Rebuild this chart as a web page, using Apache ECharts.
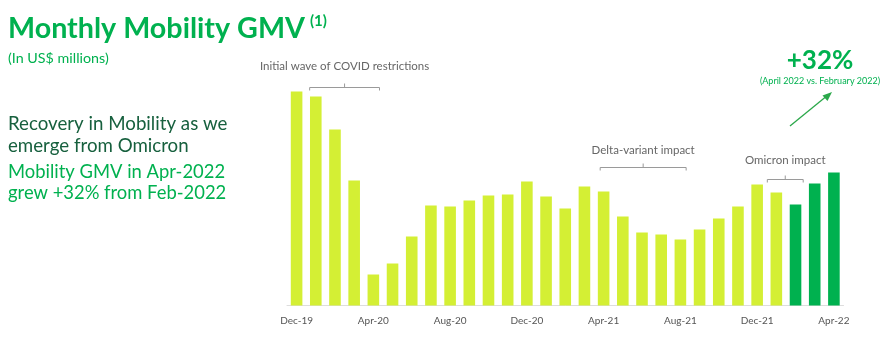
<!DOCTYPE html>
<html>
<head>
<meta charset="utf-8">
<script src="https://cdn.jsdelivr.net/npm/echarts@6/dist/echarts.min.js"></script>
<style>
  html, body { margin: 0; padding: 0; background: #ffffff; }
  #chart { width: 896px; height: 339px; }
</style>
</head>
<body>
<div id="chart"></div>
<script>
// Monthly Mobility GMV, Dec-2019 to Apr-2022 (US$ millions)
const months = [
  'Dec-19', 'Jan-20', 'Feb-20', 'Mar-20', 'Apr-20', 'May-20', 'Jun-20', 'Jul-20',
  'Aug-20', 'Sep-20', 'Oct-20', 'Nov-20', 'Dec-20', 'Jan-21', 'Feb-21', 'Mar-21',
  'Apr-21', 'May-21', 'Jun-21', 'Jul-21', 'Aug-21', 'Sep-21', 'Oct-21', 'Nov-21',
  'Dec-21', 'Jan-22', 'Feb-22', 'Mar-22', 'Apr-22'
];
const gmv = [
  214, 209, 176, 125, 31, 42, 69, 100,
  99, 105, 110, 111, 124, 109, 97, 119,
  114, 89, 73, 71, 66, 76, 87, 99,
  121, 113, 101, 122, 133
];
// Months from Feb-22 onward are highlighted
const highlightFrom = 'Feb-22';

// Annotated periods: [first month, last month, caption]
const periods = [
  ['Jan-20', 'Apr-20', 'Initial wave of COVID restrictions'],
  ['Apr-21', 'Aug-21', 'Delta-variant impact'],
  ['Jan-22', 'Feb-22', 'Omicron impact']
];

const LIME = '#D4EF34';
const GREEN = '#00B14F';
const FONT = 'Lato, "Noto Sans", sans-serif';

const chart = echarts.init(document.getElementById('chart'));
const hiIndex = months.indexOf(highlightFrom);

chart.setOption({
  backgroundColor: '#ffffff',
  animation: false,
  textStyle: { fontFamily: FONT },
  grid: { left: 287, right: 52.5, top: 85.5, bottom: 33.5 },
  xAxis: {
    type: 'category',
    data: months,
    boundaryGap: true,
    axisLine: { show: true, lineStyle: { color: '#dddddd', width: 1 } },
    axisTick: { show: false },
    axisLabel: { interval: 3, color: '#555555', fontSize: 10, margin: 10, fontFamily: FONT }
  },
  yAxis: {
    type: 'value',
    min: 0,
    max: 220,
    show: false,
    splitLine: { show: false }
  },
  series: [{
    type: 'bar',
    barWidth: 11.6,
    data: gmv.map((v, i) => ({
      value: v,
      itemStyle: { color: i >= hiIndex ? GREEN : LIME }
    }))
  }]
});

// Text blocks and annotation brackets
function drawOverlay() {
  const px = (m) => chart.convertToPixel({ xAxisIndex: 0 }, m);
  const step = px(months[1]) - px(months[0]);
  const elements = [
    { type: 'text', left: 8, top: 14, style: { text: 'Monthly Mobility GMV', fill: GREEN, font: 'bold 28.7px ' + FONT } },
    { type: 'text', left: 310, top: 14, style: { text: '(1)', fill: GREEN, font: 'bold 15px ' + FONT } },
    { type: 'text', left: 8, top: 51, style: { text: '(In US$ millions)', fill: GREEN, font: '14.3px ' + FONT } },
    { type: 'text', left: 8, top: 113, style: { text: 'Recovery in Mobility as we\nemerge from Omicron', fill: '#17603E', font: '18.7px ' + FONT, lineHeight: 22 } },
    { type: 'text', left: 8, top: 162, style: { text: 'Mobility GMV in Apr-2022\ngrew +32% from Feb-2022', fill: GREEN, font: '18.4px ' + FONT, lineHeight: 21 } },
    { type: 'text', x: 820, y: 61, style: { text: '+32%', fill: GREEN, font: 'bold 26px ' + FONT, align: 'center', verticalAlign: 'middle' } },
    { type: 'text', x: 820, y: 81.5, style: { text: '(April 2022 vs. February 2022)', fill: GREEN, font: '9px ' + FONT, align: 'center', verticalAlign: 'middle' } },
    { type: 'line', shape: { x1: 790, y1: 126, x2: 828, y2: 95 }, style: { stroke: '#2BA84A', lineWidth: 1.3 } },
    { type: 'polygon', shape: { points: [[832, 92], [822.5, 95.5], [827.5, 101]] }, style: { fill: '#2BA84A' } }
  ];

  const bracketY = [87.5, 167.5, 179.5];
  const captionY = [66.5, 150.5, 160.5];
  const padL = [0.32, 0.18, 0.47];
  const padR = [0.32, 0.3, 0.4];
  periods.forEach((p, k) => {
    const x0 = px(p[0]) - step * padL[k];
    const x1 = px(p[1]) + step * padR[k];
    const y = bracketY[k];
    const mid = (x0 + x1) / 2;
    elements.push({
      type: 'polyline',
      shape: { points: [[x0, y + 3], [x0, y], [x1, y], [x1, y + 3]] },
      style: { stroke: '#9a9a9a', lineWidth: 1, fill: null }
    });
    elements.push({
      type: 'line',
      shape: { x1: mid, y1: y, x2: mid, y2: y - 4 },
      style: { stroke: '#9a9a9a', lineWidth: 1 }
    });
    elements.push({
      type: 'text', x: mid, y: captionY[k],
      style: { text: p[2], fill: '#666666', font: '11.5px ' + FONT, align: 'center', verticalAlign: 'middle' }
    });
  });

  chart.setOption({ graphic: { elements: elements } });
}
drawOverlay();
</script>
</body>
</html>
